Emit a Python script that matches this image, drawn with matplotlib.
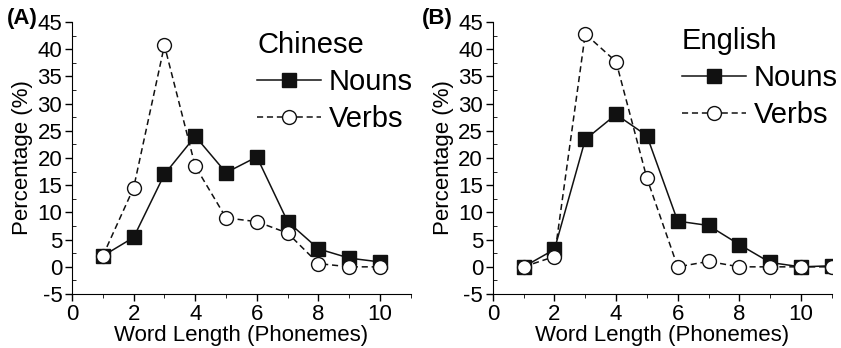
import matplotlib
matplotlib.use("Agg")
import matplotlib.pyplot as plt
from matplotlib.ticker import MultipleLocator

plt.rcParams['font.family'] = ['Liberation Sans', 'DejaVu Sans']
plt.rcParams['axes.unicode_minus'] = False

# word length (phonemes)
len_cn = [1, 2, 3, 4, 5, 6, 7, 8, 9, 10]
nouns_cn = [2.0, 5.4, 17.0, 24.0, 17.3, 20.2, 8.3, 3.3, 1.6, 0.9]
verbs_cn = [2.0, 14.5, 40.7, 18.5, 9.0, 8.3, 6.2, 0.6, 0.0, 0.0]

len_en = [1, 2, 3, 4, 5, 6, 7, 8, 9, 10, 11]
nouns_en = [0.0, 3.2, 23.4, 28.0, 24.1, 8.4, 7.6, 4.1, 0.8, 0.0, 0.2]
verbs_en = [0.0, 1.9, 42.8, 37.7, 16.3, 0.0, 1.0, 0.0, 0.0, 0.0, 0.0]

fig = plt.figure(figsize=(8.41, 3.48), dpi=100)
ax1 = fig.add_axes([0.0856, 0.155, 0.403, 0.782])
ax2 = fig.add_axes([0.586, 0.155, 0.403, 0.782])


def panel(ax, x, nouns, verbs, title, tag, tagx, legx, legy):
    ax.plot(x, nouns, '-', color='#111111', lw=1.1, marker='s', ms=9.5,
            mfc='#111111', mec='#111111', label='Nouns', zorder=3)
    ax.plot(x, verbs, '--', color='#111111', lw=1.1, dashes=(4, 2.5),
            marker='o', ms=10, mfc='white', mec='#111111', mew=1.0,
            label='Verbs', zorder=4)
    ax.set_xlim(0, 11)
    ax.set_ylim(-5, 45)
    ax.xaxis.set_major_locator(MultipleLocator(2))
    ax.xaxis.set_minor_locator(MultipleLocator(1))
    ax.yaxis.set_major_locator(MultipleLocator(5))
    ax.yaxis.set_minor_locator(MultipleLocator(2.5))
    ax.spines['top'].set_visible(False)
    ax.spines['right'].set_visible(False)
    ax.tick_params(which='major', direction='out', length=5, width=1,
                   labelsize=16, pad=2)
    ax.tick_params(axis='x', which='minor', direction='out', length=3)
    ax.tick_params(axis='y', which='minor', direction='in', length=3)
    ax.set_xlabel('Word Length (Phonemes)', fontsize=16, labelpad=0)
    ax.set_ylabel('Percentage (%)', fontsize=16, labelpad=3)
    ax.legend(title=title, loc='upper left', frameon=False,
              fontsize=21, title_fontsize=21, alignment='left',
              handlelength=2.2, handletextpad=0.25, labelspacing=0.3,
              borderaxespad=0.0, borderpad=0.0, markerscale=1.0,
              bbox_to_anchor=(legx, legy))
    fig.text(tagx, 0.948, tag, fontsize=16, fontweight='bold',
             ha='left', va='center')


panel(ax1, len_cn, nouns_cn, verbs_cn, 'Chinese', '(A)', 0.008, 0.546, 0.965)
panel(ax2, len_en, nouns_en, verbs_en, 'English', '(B)', 0.502, 0.558, 0.98)

fig.savefig('out.png', dpi=100)
